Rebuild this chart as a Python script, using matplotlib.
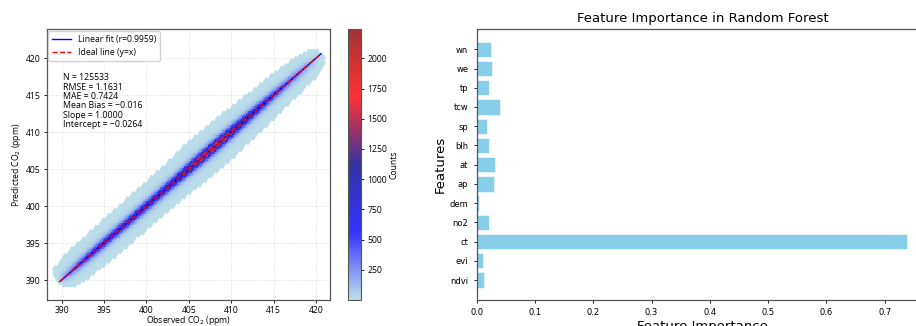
import numpy as np
import matplotlib
matplotlib.use("Agg")
import matplotlib.pyplot as plt
from matplotlib.colors import LinearSegmentedColormap, Normalize

# ---------------------------------------------------------------------------
# Data
# ---------------------------------------------------------------------------

# peak hex count along the 1:1 line (position = observed CO2, ppm)
diag_obs  = [389.7, 390.5, 392, 394, 396, 398, 400, 402, 404, 406, 407.5, 409, 411, 413, 415, 417, 419, 420.6]
diag_peak = [0, 250, 550, 800, 900, 950, 1000, 1100, 1400, 1900, 2150, 2000, 1450, 1000, 700, 450, 220, 0]

# share of the peak count at a given residual (predicted - observed, ppm)
resid_offset = [0, 0.25, 0.5, 0.75, 1.0, 1.5, 2.0, 2.5, 3.0, 3.5, 4.0, 5.0]
resid_share  = [1, 0.75, 0.45, 0.25, 0.12, 0.035, 0.011, 0.0045, 0.0018, 0.0007, 0.0003, 0.00005]

fit_range = [389.8, 420.6]
stats_lines = ["N = 125533", "RMSE = 1.1631", "MAE = 0.7424",
               "Mean Bias = \u22120.016", "Slope = 1.0000", "Intercept = \u22120.0264"]

features    = ["ndvi", "evi", "ct", "no2", "dem", "ap", "at", "blh", "sp", "tcw", "tp", "we", "wn"]
importances = [0.012, 0.011, 0.739, 0.0217, 0.004, 0.029, 0.031, 0.0217, 0.018, 0.040, 0.021, 0.0257, 0.024]

LEFT_FONT = ["Open Sans", "DejaVu Sans"]

# ---------------------------------------------------------------------------
# Layout (pixel positions of the 916x326 reference)
# ---------------------------------------------------------------------------
W, H = 916, 326
fig = plt.figure(figsize=(W / 100, H / 100), dpi=100)

def px_axes(x0, y0, x1, y1):
    return fig.add_axes([x0 / W, 1 - y1 / H, (x1 - x0) / W, (y1 - y0) / H])

ax1 = px_axes(46.7, 29.3, 330, 300)
cax = px_axes(347.7, 29.3, 361, 300)
ax2 = px_axes(476.7, 29.3, 929, 300)

# ---------------------------------------------------------------------------
# Hexbin density: weights on a fine grid, summed per hexagon
# ---------------------------------------------------------------------------
xlim = (388.25, 421.65)
ylim = (387.3, 423.9)
step = 0.04
gx, gy = np.meshgrid(np.arange(xlim[0], xlim[1], step), np.arange(ylim[0], ylim[1], step))
gx, gy = gx.ravel(), gy.ravel()
u = (gx + gy) / 2
v = np.abs(gy - gx)
peak = np.interp(u, diag_obs, diag_peak, left=0, right=0)
share = np.exp(np.interp(v, resid_offset, np.log(resid_share), right=-50))

gridsize = 100
nx = gridsize
ny = int(nx / np.sqrt(3))
cell_area = (xlim[1] - xlim[0]) / nx * (ylim[1] - ylim[0]) / ny / 2
w = peak * share * step * step / cell_area
keep = w > 1e-3

cmap = LinearSegmentedColormap.from_list(
    "counts", ["lightblue", "blue", "darkblue", "red", "darkred"])

hb = ax1.hexbin(gx[keep], gy[keep], C=w[keep], reduce_C_function=np.sum,
                gridsize=gridsize, extent=(*xlim, *ylim), cmap=cmap,
                norm=Normalize(vmin=1, vmax=2240), alpha=0.8, linewidths=0.2)
# hide hexagons holding less than one observation
counts = np.asarray(hb.get_array())
shown = counts >= 1
hb.set_offsets(hb.get_offsets()[shown])
hb.set_array(counts[shown])

ax1.plot(fit_range, fit_range, color="blue", lw=1.0, label="Linear fit (r=0.9959)")
ax1.plot(fit_range, fit_range, color="red", lw=1.0, ls="--", label="Ideal line (y=x)")

ax1.set_xlim(*xlim)
ax1.set_ylim(*ylim)
ax1.set_xticks(range(390, 421, 5))
ax1.set_yticks(range(390, 421, 5))
ax1.tick_params(labelsize=6.2, length=2.5, width=0.6, pad=2)
for lab in ax1.get_xticklabels() + ax1.get_yticklabels():
    lab.set_family(LEFT_FONT)
ax1.grid(True, linestyle=":", linewidth=0.6, alpha=0.5)
ax1.set_axisbelow(True)
ax1.set_xlabel("Observed CO$_2$ (ppm)", fontsize=6.2, labelpad=-1, family=LEFT_FONT)
ax1.set_ylabel("Predicted CO$_2$ (ppm)", fontsize=6.2, labelpad=2, family=LEFT_FONT)
for s in ax1.spines.values():
    s.set_color("#555555")
    s.set_linewidth(0.9)

ax1.legend(loc="upper left", prop={"family": LEFT_FONT, "size": 6.2}, framealpha=0.9,
           borderpad=0.45, handlelength=2.2, labelspacing=0.45, edgecolor="#cccccc",
           borderaxespad=0.2)
ax1.text(0.059, 0.838, "\n".join(stats_lines), transform=ax1.transAxes,
         fontsize=6.3, va="top", ha="left", linespacing=1.05, family=LEFT_FONT)

cb = fig.colorbar(hb, cax=cax)
cb.set_label("Counts", fontsize=6.2, labelpad=2, family=LEFT_FONT)
cb.ax.tick_params(labelsize=6.2, length=2.5, width=0.6, pad=2)
for lab in cb.ax.get_yticklabels():
    lab.set_family(LEFT_FONT)
cb.outline.set_edgecolor("#555555")

# ---------------------------------------------------------------------------
# Feature importance
# ---------------------------------------------------------------------------
ax2.barh(features, importances, color="skyblue", edgecolor="white", linewidth=0.4)
ax2.set_title("Feature Importance in Random Forest", fontsize=9.5, pad=5)
ax2.set_xlabel("Feature Importance", fontsize=9.5, labelpad=2)
ax2.set_ylabel("Features", fontsize=9.5, labelpad=2)
ax2.tick_params(labelsize=6, length=2.5, width=0.6)
for s in ax2.spines.values():
    s.set_color("#555555")
    s.set_linewidth(0.9)

fig.savefig("out.png", dpi=100)
